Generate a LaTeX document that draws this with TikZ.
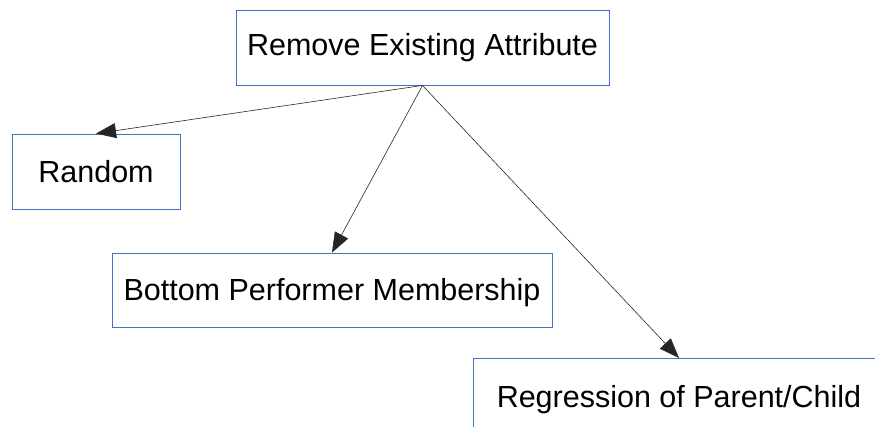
\documentclass[tikz,border=0pt]{standalone}
\usepackage{fontspec}
\setmainfont{Liberation Sans}
\usetikzlibrary{arrows.meta}
\definecolor{boxblue}{HTML}{4472C4}
\tikzset{
  box/.style={draw=boxblue, line width=0.9pt, rectangle, inner sep=0pt,
    font=\fontsize{30.5}{36}\selectfont, text height=22pt, text depth=0pt},
  link/.style={draw=black!85, line width=0.6pt,
    -{Triangle[length=20pt,width=15pt]}}
}
\begin{document}
\begin{tikzpicture}[x=1pt,y=-1pt]
  \useasboundingbox (0,0) rectangle (875,427);
  \clip (0,0) rectangle (875,427);
  \node[box, minimum width=373pt, minimum height=75pt, text depth=6pt]
    (top) at (422.5,47.5) {Remove Existing Attribute};
  \node[box, minimum width=168pt, minimum height=75pt]
    (rand) at (96,171.5) {Random};
  \node[box, minimum width=440pt, minimum height=74pt]
    (perf) at (332,290) {Bottom Performer Membership};
  \node[box, minimum width=412pt, minimum height=75pt]
    (reg) at (679,396) {Regression of Parent/Child};
  \draw[link] (top.south) -- (rand.north);
  \draw[link] (top.south) -- (perf.north);
  \draw[link] (top.south) -- (reg.north);
\end{tikzpicture}
\end{document}
